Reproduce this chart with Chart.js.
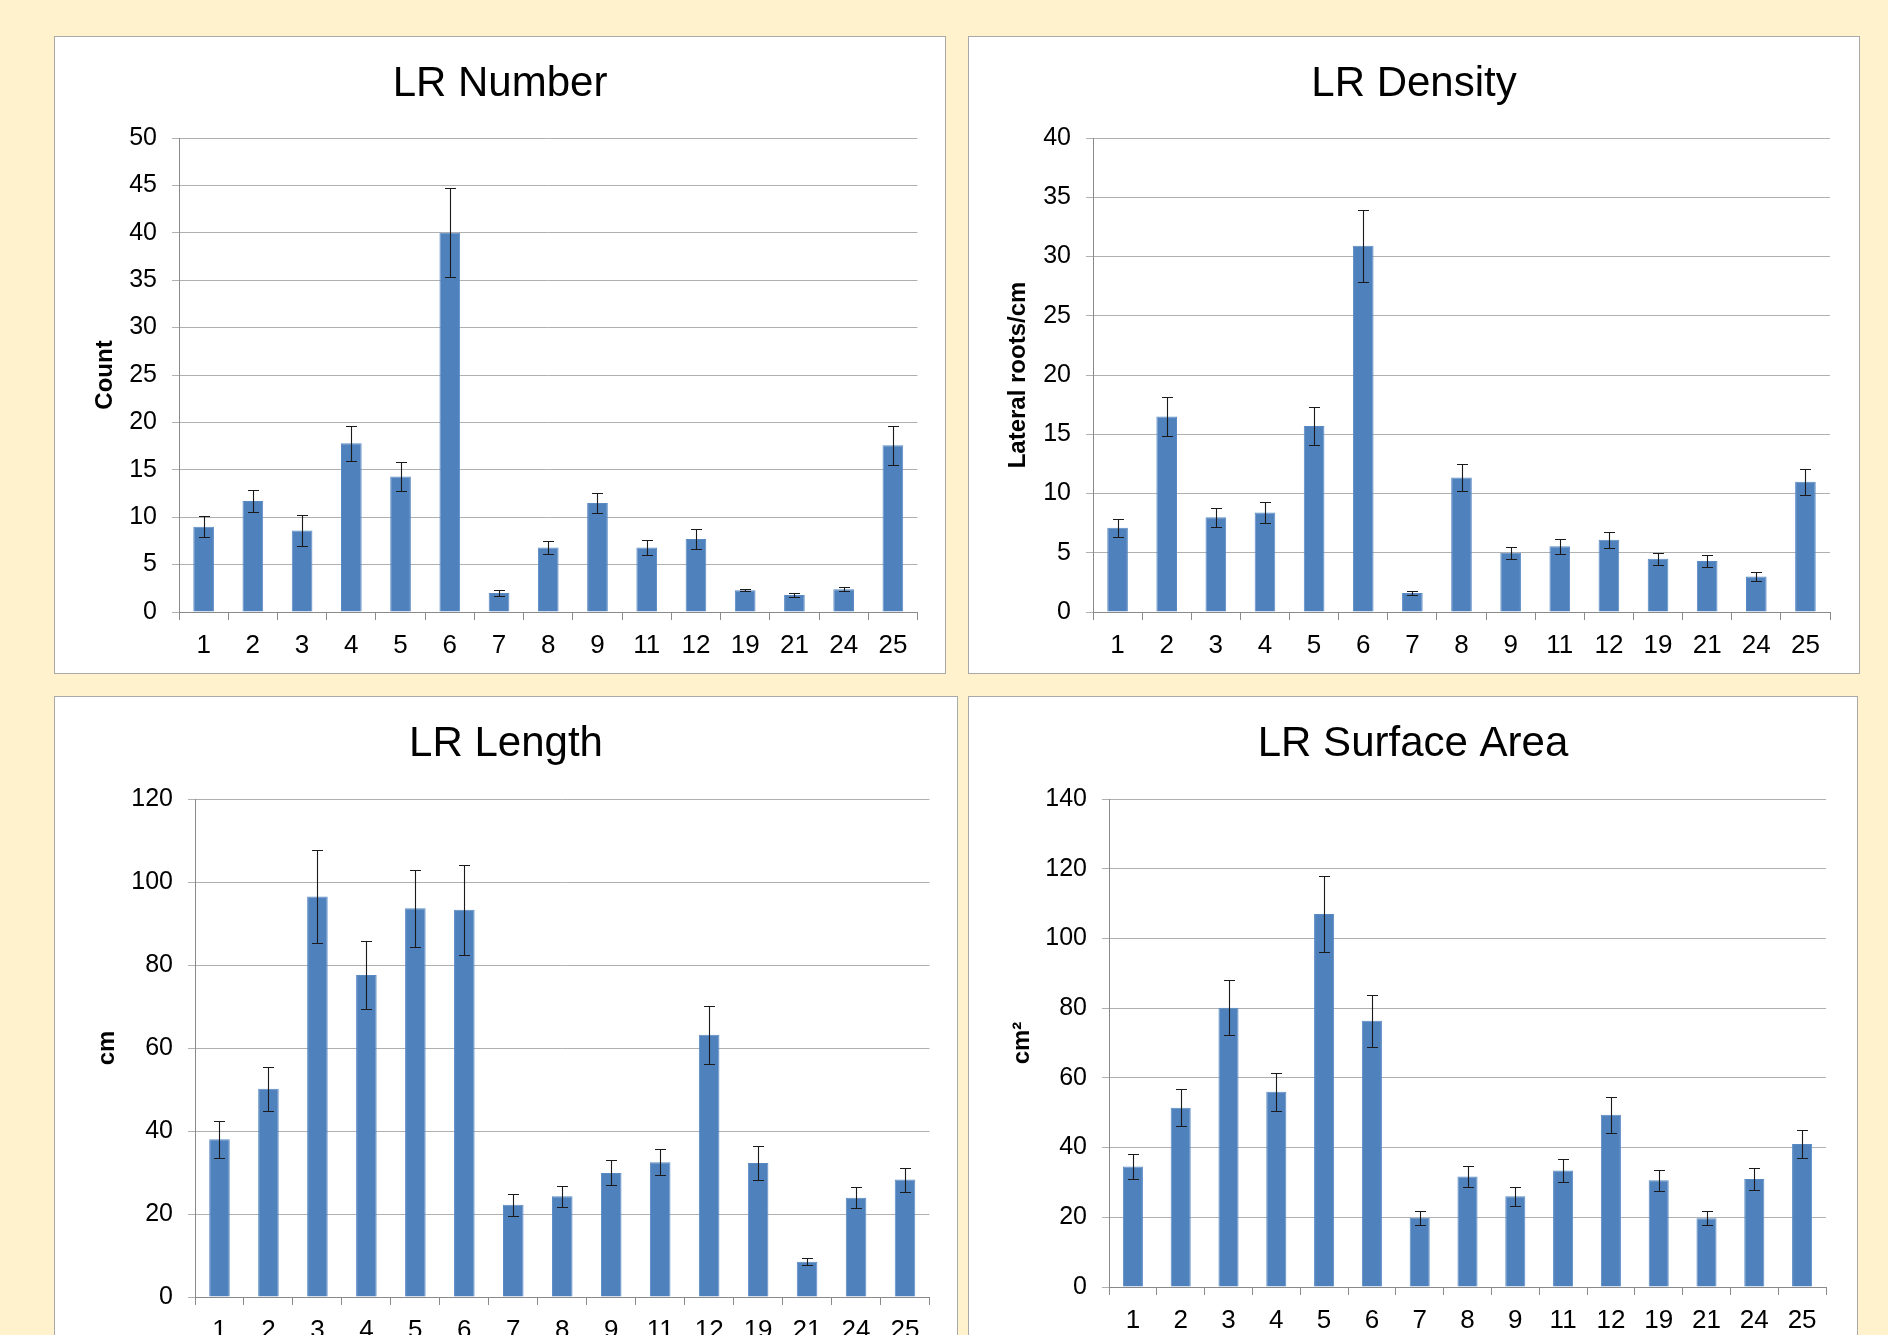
<!DOCTYPE html>
<html>
<head>
<meta charset="utf-8">
<script src="https://cdn.jsdelivr.net/npm/chart.js@4.4.1/dist/chart.umd.min.js"></script>
<style>
  html, body { margin: 0; padding: 0; }
  body { width: 1888px; height: 1335px; background: #fff2cc; position: relative; overflow: hidden; }
  .panel { position: absolute; background: #fff; border: 1px solid #a9a9a9; box-sizing: border-box; }
  .panel canvas { position: absolute; left: -1px; top: -1px; }
</style>
</head>
<body>
<div class="panel" style="left:54px;top:36px;width:892px;height:638px;"><canvas id="numberChart" width="892" height="638"></canvas></div>
<div class="panel" style="left:968px;top:36px;width:892px;height:638px;"><canvas id="densityChart" width="892" height="638"></canvas></div>
<div class="panel" style="left:54px;top:696px;width:904px;height:680px;"><canvas id="lengthChart" width="904" height="680"></canvas></div>
<div class="panel" style="left:968px;top:696px;width:890px;height:680px;"><canvas id="areaChart" width="890" height="680"></canvas></div>
<script>
// Genotype / line numbers on the x axis
const groups = ['1', '2', '3', '4', '5', '6', '7', '8', '9', '11', '12', '19', '21', '24', '25'];

// LR Number (count)
const lrNumber = [9.0, 11.7, 8.6, 17.8, 14.3, 40.0, 2.0, 6.8, 11.5, 6.8, 7.7, 2.3, 1.8, 2.4, 17.6];
const lrNumberErr = [1.1, 1.2, 1.6, 1.85, 1.5, 4.7, 0.3, 0.7, 1.1, 0.75, 1.1, 0.1, 0.25, 0.2, 2.05];

// LR Density (lateral roots/cm)
const lrDensity = [7.1, 16.5, 8.0, 8.4, 15.7, 30.9, 1.6, 11.35, 5.0, 5.55, 6.1, 4.5, 4.3, 3.0, 11.0];
const lrDensityErr = [0.75, 1.65, 0.8, 0.85, 1.6, 3.05, 0.18, 1.15, 0.5, 0.62, 0.67, 0.5, 0.48, 0.35, 1.1];

// LR Length (cm)
const lrLength = [38.0, 50.2, 96.5, 77.6, 93.7, 93.3, 22.2, 24.3, 29.9, 32.5, 63.2, 32.3, 8.5, 23.9, 28.3];
const lrLengthErr = [4.4, 5.3, 11.3, 8.3, 9.3, 10.8, 2.6, 2.5, 3.0, 3.2, 7.0, 4.0, 0.8, 2.5, 2.9];

// LR Surface Area (cm2)
const lrArea = [34.6, 51.4, 80.1, 56.0, 107.0, 76.4, 19.9, 31.7, 26.0, 33.4, 49.4, 30.6, 19.7, 31.0, 41.0];
const lrAreaErr = [3.5, 5.3, 7.9, 5.5, 10.8, 7.5, 2.0, 3.1, 2.7, 3.4, 5.1, 3.1, 2.0, 3.1, 4.0];

const fontFamily = '"Liberation Sans", Arial, sans-serif';

// Draws +/- error bars on top of each bar
const errorBars = {
    id: 'errorBars',
    afterDatasetsDraw(chart) {
        const ds = chart.data.datasets[0];
        const meta = chart.getDatasetMeta(0);
        const yScale = chart.scales.y;
        const c = chart.ctx;
        c.save();
        c.strokeStyle = '#1a1a1a';
        c.lineWidth = 1.1;
        meta.data.forEach((bar, i) => {
            const hi = Math.round(yScale.getPixelForValue(ds.data[i] + ds.errors[i])) + 0.5;
            const lo = Math.round(yScale.getPixelForValue(ds.data[i] - ds.errors[i])) + 0.5;
            const x = Math.round(bar.x) + 0.5;
            c.beginPath();
            c.moveTo(x, hi); c.lineTo(x, lo);
            c.moveTo(x - 5.5, hi); c.lineTo(x + 5.5, hi);
            c.moveTo(x - 5.5, lo); c.lineTo(x + 5.5, lo);
            c.stroke();
        });
        c.restore();
    }
};

// box: left = plot left edge, side = outer padding on both sides (keeps title centred)
const createBarChart = (canvasId, title, yTitle, values, errors, yMax, yStep, box) => {
    const ctx = document.getElementById(canvasId).getContext('2d');
    return new Chart(ctx, {
        type: 'bar',
        data: {
            labels: groups,
            datasets: [{
                data: values,
                errors: errors,
                backgroundColor: '#4f81bd',
                borderColor: '#5a8ac4',
                borderWidth: 1,
                barPercentage: 0.42,
                categoryPercentage: 1
            }]
        },
        options: {
            responsive: false,
            animation: false,
            layout: { padding: { left: box.side, top: 0, right: box.side, bottom: box.bottom } },
            plugins: {
                legend: { display: false },
                tooltip: { enabled: false },
                title: {
                    display: true,
                    text: title,
                    color: '#000',
                    font: { size: 42, family: fontFamily, weight: 'normal' },
                    padding: { top: box.titleTop, bottom: box.titleBottom }
                }
            },
            scales: {
                x: {
                    grid: { drawOnChartArea: false, tickLength: 8, color: '#8a8a8a' },
                    border: { color: '#8a8a8a' },
                    ticks: { color: '#000', font: { size: 26, family: fontFamily }, padding: 10, maxRotation: 0, autoSkip: false },
                    afterFit: scale => { scale.height = 52; }
                },
                y: {
                    min: 0,
                    max: yMax,
                    ticks: { stepSize: yStep, color: '#000', font: { size: 25, family: fontFamily }, padding: 15 },
                    grid: { color: '#b0b0b0', tickLength: 7 },
                    border: { color: '#8a8a8a' },
                    title: {
                        display: true,
                        text: yTitle,
                        color: '#000',
                        font: { size: 24, weight: 'bold', family: fontFamily },
                        padding: { top: box.yTitle - box.side - 14.4, bottom: 0 }
                    },
                    afterFit: scale => { scale.width = box.left - box.side; }
                }
            }
        },
        plugins: [errorBars]
    });
};

createBarChart('numberChart', 'LR Number', 'Count', lrNumber, lrNumberErr, 50, 5,
    { left: 125, side: 28.5, bottom: 10, titleTop: 23, titleBottom: 28.6, yTitle: 51 });
createBarChart('densityChart', 'LR Density', 'Lateral roots/cm', lrDensity, lrDensityErr, 40, 5,
    { left: 125, side: 30, bottom: 10, titleTop: 23, titleBottom: 28.6, yTitle: 50 });
createBarChart('lengthChart', 'LR Length', 'cm', lrLength, lrLengthErr, 120, 20,
    { left: 141, side: 28.5, bottom: 27, titleTop: 23.5, titleBottom: 29.1, yTitle: 53 });
createBarChart('areaChart', 'LR Surface Area', 'cm²', lrArea, lrAreaErr, 140, 20,
    { left: 141, side: 32, bottom: 37, titleTop: 23.5, titleBottom: 29.1, yTitle: 54 });
</script>
</body>
</html>
